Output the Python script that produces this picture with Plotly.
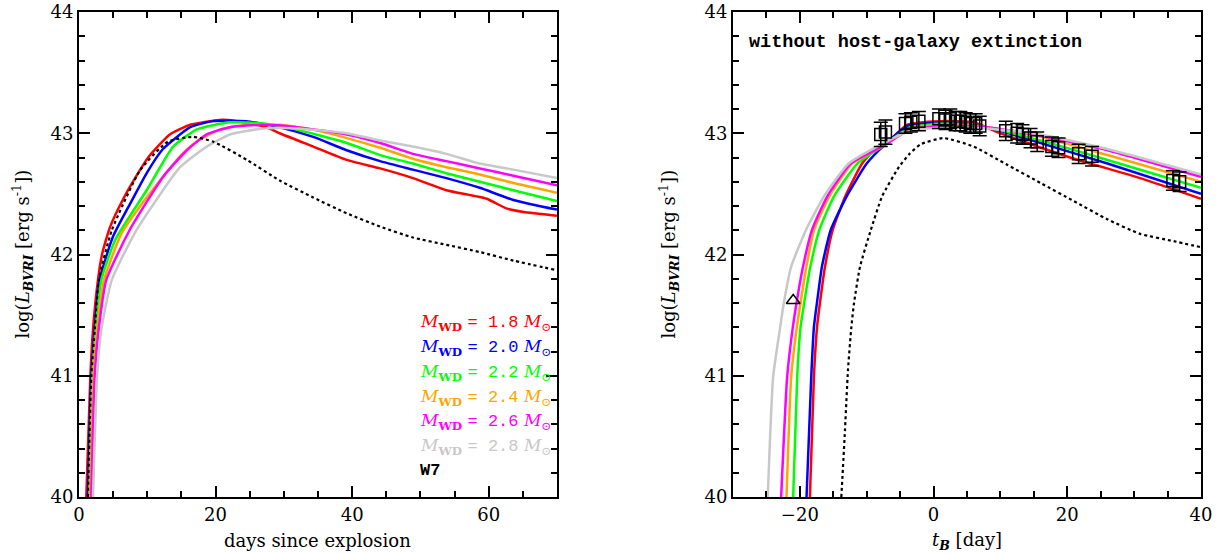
import plotly.graph_objects as go

# ---------------- Left panel: days since explosion ----------------
labels = ["1.8", "2.0", "2.2", "2.4", "2.6", "2.8"]
colors = ["#ff0000", "#0000ff", "#00ff00", "#ffa500", "#ff00ff", "#c8c8c8"]

L_t_18 = [1.07, 1.66, 2.05, 2.78, 3.37, 4.5, 6.5, 9.2, 10.4, 13.3, 16.3, 20.6, 23.1, 27.5, 29.4, 34.3, 39.2, 44.1, 48.9, 53.8, 59.7, 62.6, 65.1, 70]
L_y_18 = [40.0, 40.99, 41.38, 41.79, 42.0, 42.22, 42.46, 42.72, 42.82, 42.99, 43.07, 43.11, 43.10, 43.05, 43.0, 42.89, 42.78, 42.71, 42.63, 42.53, 42.46, 42.38, 42.35, 42.32]
L_t_20 = [1.3, 1.8, 2.3, 3.0, 5.0, 7.5, 10.0, 12.3, 16.3, 19.7, 24.5, 29.4, 34.3, 39.2, 44.1, 48.9, 53.8, 58.7, 63.6, 70]
L_y_20 = [40.0, 40.99, 41.38, 41.79, 42.15, 42.42, 42.68, 42.87, 43.05, 43.10, 43.10, 43.05, 42.97, 42.86, 42.77, 42.70, 42.63, 42.55, 42.45, 42.37]
L_t_22 = [1.5, 1.95, 2.44, 3.27, 5.3, 9.9, 13.8, 17.2, 22.1, 27.0, 31.9, 39.2, 44.1, 48.9, 53.8, 58.7, 63.6, 70]
L_y_22 = [40.0, 40.99, 41.38, 41.79, 42.12, 42.53, 42.89, 43.03, 43.09, 43.08, 43.03, 42.92, 42.82, 42.75, 42.67, 42.60, 42.53, 42.44]
L_t_24 = [1.6, 2.05, 2.64, 3.66, 6.2, 9.9, 14.8, 17.2, 20.6, 24.6, 29.4, 34.3, 39.2, 44.1, 48.9, 53.8, 58.7, 63.6, 70]
L_y_24 = [40.0, 40.99, 41.38, 41.79, 42.17, 42.47, 42.81, 42.93, 43.03, 43.07, 43.07, 43.03, 42.96, 42.88, 42.79, 42.72, 42.66, 42.59, 42.51]
L_t_26 = [1.8, 2.3, 2.88, 4.0, 7.4, 12.3, 15.8, 18.7, 22.1, 27.0, 31.9, 39.2, 44.1, 48.9, 53.8, 58.7, 63.6, 70]
L_y_26 = [40.0, 40.99, 41.38, 41.79, 42.2, 42.64, 42.86, 42.99, 43.05, 43.07, 43.05, 42.99, 42.92, 42.83, 42.77, 42.71, 42.65, 42.57]
L_t_28 = [2.05, 2.64, 3.27, 4.8, 8.4, 14.8, 18.7, 22.1, 27.0, 31.9, 39.2, 44.1, 48.9, 53.8, 58.7, 63.6, 70]
L_y_28 = [40.0, 40.99, 41.38, 41.79, 42.2, 42.72, 42.89, 42.99, 43.04, 43.04, 43.0, 42.94, 42.89, 42.83, 42.75, 42.70, 42.63]
L_t_w7 = [1.3, 1.8, 2.3, 2.9, 4.8, 9.0, 13.0, 16.7, 19.7, 24.6, 29.4, 34.3, 39.2, 44.1, 48.9, 53.8, 58.7, 63.6, 70]
L_y_w7 = [40.0, 40.99, 41.38, 41.79, 42.2, 42.7, 42.93, 42.97, 42.93, 42.78, 42.61, 42.47, 42.34, 42.23, 42.14, 42.08, 42.02, 41.95, 41.87]

# ---------------- Right panel: t_B ----------------
R_t_18 = [-18.5, -17.9, -17.4, -16.95, -16.3, -15.1, -13.2, -10.7, -8.9, -7.4, -3.9, 1.0, 6.0, 9.5, 13.5, 21.0, 30.9, 40]
R_y_18 = [40.0, 40.99, 41.42, 41.62, 41.88, 42.20, 42.48, 42.75, 42.86, 42.90, 43.07, 43.10, 43.09, 43.01, 42.93, 42.79, 42.63, 42.46]
R_t_20 = [-19.0, -18.3, -17.9, -17.4, -16.7, -15.4, -13.0, -10.0, -7.4, -3.9, 2.0, 8.5, 16.0, 26.0, 40]
R_y_20 = [40.0, 40.99, 41.40, 41.62, 41.90, 42.20, 42.48, 42.75, 42.90, 43.06, 43.09, 43.04, 42.92, 42.75, 42.50]
R_t_22 = [-21.0, -20.4, -19.9, -19.3, -18.5, -17.1, -14.9, -11.4, -7.4, -3.5, 2.0, 8.0, 16.0, 26.0, 40]
R_y_22 = [40.0, 40.99, 41.40, 41.62, 41.88, 42.20, 42.48, 42.75, 42.90, 43.05, 43.08, 43.05, 42.94, 42.78, 42.55]
R_t_24 = [-22.0, -21.3, -20.5, -19.9, -19.15, -17.9, -15.6, -12.2, -7.4, -3.5, 2.0, 8.0, 16.0, 26.0, 40]
R_y_24 = [40.0, 40.99, 41.38, 41.60, 41.86, 42.20, 42.48, 42.75, 42.90, 43.04, 43.07, 43.05, 42.97, 42.82, 42.60]
R_t_26 = [-22.8, -21.9, -21.1, -20.5, -19.6, -18.2, -15.9, -12.4, -7.4, -3.5, 2.0, 8.0, 16.0, 26.0, 40]
R_y_26 = [40.0, 40.99, 41.38, 41.60, 41.88, 42.20, 42.48, 42.75, 42.90, 43.03, 43.06, 43.05, 42.98, 42.86, 42.64]
R_t_28 = [-24.8, -24.0, -23.0, -22.4, -21.3, -19.1, -16.4, -12.7, -7.4, -3.5, 2.0, 8.0, 16.0, 26.0, 40]
R_y_28 = [40.0, 40.99, 41.38, 41.60, 41.90, 42.20, 42.48, 42.75, 42.92, 43.02, 43.05, 43.04, 42.99, 42.87, 42.66]
R_t_w7 = [-13.8, -13.3, -12.8, -12.3, -11.9, -11.0, -9.4, -7.7, -5.2, -3.6, -1.9, 1.5, 6.0, 11.0, 16.0, 21.0, 26.0, 30.9, 35.9, 40]
R_y_w7 = [40.0, 40.50, 41.05, 41.40, 41.60, 41.90, 42.20, 42.48, 42.72, 42.83, 42.91, 42.96, 42.89, 42.74, 42.59, 42.44, 42.29, 42.17, 42.11, 42.06]

# observed points
obs_t = [-7.9, -7.2, -4.2, -3.4, -2.2, 0.8, 1.8, 2.5, 3.3, 4.0, 4.8, 5.5, 6.3, 6.9, 10.8, 12.5, 13.3, 14.5, 15.5, 17.7, 18.7, 21.7, 23.7, 35.8, 36.8]
obs_L = [42.99, 43.01, 43.08, 43.09, 43.10, 43.12, 43.11, 43.12, 43.10, 43.10, 43.09, 43.08, 43.08, 43.06, 43.02, 43.00, 42.99, 42.96, 42.93, 42.89, 42.88, 42.83, 42.81, 42.61, 42.60]
obs_err = [0.10, 0.10, 0.08, 0.08, 0.08, 0.08, 0.08, 0.08, 0.08, 0.08, 0.08, 0.08, 0.08, 0.08, 0.08, 0.08, 0.08, 0.08, 0.08, 0.08, 0.08, 0.08, 0.08, 0.08, 0.08]
tri_t = [-21.0]
tri_L = [41.62]

left_t = [L_t_18, L_t_20, L_t_22, L_t_24, L_t_26, L_t_28]
left_y = [L_y_18, L_y_20, L_y_22, L_y_24, L_y_26, L_y_28]
right_t = [R_t_18, R_t_20, R_t_22, R_t_24, R_t_26, R_t_28]
right_y = [R_y_18, R_y_20, R_y_22, R_y_24, R_y_26, R_y_28]

SERIF = "DejaVu Serif"
MONO = "Liberation Mono"

fig = go.Figure()
for i in range(6):
    fig.add_trace(go.Scatter(x=left_t[i], y=left_y[i], mode="lines",
                             line=dict(color=colors[i], width=2.5, shape="spline", smoothing=0.5),
                             xaxis="x", yaxis="y", showlegend=False))
fig.add_trace(go.Scatter(x=L_t_w7, y=L_y_w7, mode="lines",
                         line=dict(color="black", width=2.2, dash="dot", shape="spline", smoothing=0.5),
                         xaxis="x", yaxis="y", showlegend=False))
for i in range(6):
    fig.add_trace(go.Scatter(x=right_t[i], y=right_y[i], mode="lines",
                             line=dict(color=colors[i], width=2.5, shape="spline", smoothing=0.5),
                             xaxis="x2", yaxis="y2", showlegend=False))
fig.add_trace(go.Scatter(x=R_t_w7, y=R_y_w7, mode="lines",
                         line=dict(color="black", width=2.2, dash="dot", shape="spline", smoothing=0.5),
                         xaxis="x2", yaxis="y2", showlegend=False))
fig.add_trace(go.Scatter(x=obs_t, y=obs_L, mode="markers",
                         marker=dict(symbol="square-open", size=12, color="black", line=dict(width=1.5)),
                         error_y=dict(type="data", array=obs_err, visible=True, color="black",
                                      thickness=1.5, width=7),
                         xaxis="x2", yaxis="y2", showlegend=False))
fig.add_trace(go.Scatter(x=tri_t, y=tri_L, mode="markers",
                         marker=dict(symbol="triangle-up-open", size=12, color="black", line=dict(width=1.5)),
                         xaxis="x2", yaxis="y2", showlegend=False))

axis_common = dict(showline=True, linewidth=2, linecolor="black", mirror="ticks",
                   ticks="inside", ticklen=11, tickwidth=1.5, tickcolor="black",
                   showgrid=False, zeroline=False, automargin=False,
                   tickfont=dict(family=SERIF, size=18, color="black"))
minor_common = dict(ticklen=6, ticks="inside", tickcolor="black", tickwidth=1.5)

fig.update_layout(
    width=1222, height=554, autosize=False,
    paper_bgcolor="white", plot_bgcolor="white",
    margin=dict(l=79, r=21, t=12, b=57, autoexpand=False),
    xaxis=dict(domain=[0, 0.426], range=[0, 70], dtick=20, tick0=0,
               minor=dict(dtick=5, **minor_common), anchor="y", **axis_common),
    yaxis=dict(domain=[0, 1], range=[40, 44], dtick=1, tick0=40,
               minor=dict(dtick=0.2, **minor_common), anchor="x", **axis_common),
    xaxis2=dict(domain=[0.5829, 1.0], range=[-30, 40], dtick=20, tick0=0,
                minor=dict(dtick=5, **minor_common), anchor="y2", **axis_common),
    yaxis2=dict(domain=[0, 1], range=[40, 44], dtick=1, tick0=40,
                minor=dict(dtick=0.2, **minor_common), anchor="x2", **axis_common),
)

# axis titles as annotations
ylab = "log(<i>L</i><sub><b><i>BVRI</i></b></sub> [erg s<sup>-1</sup>])"
title_font = dict(family=SERIF, size=18, color="black")
fig.add_annotation(x=0.5, y=-0.09, xref="x domain", yref="y domain", text="days since explosion",
                   showarrow=False, xanchor="center", yanchor="middle", font=title_font)
fig.add_annotation(x=0.5, y=-0.09, xref="x2 domain", yref="y2 domain", text="<i>t</i><sub><b><i>B</i></b></sub> [day]",
                   showarrow=False, xanchor="center", yanchor="middle", font=title_font)
fig.add_annotation(x=-57 / 478, y=0.5, xref="x domain", yref="y domain", text=ylab, textangle=-90,
                   showarrow=False, xanchor="center", yanchor="middle", font=title_font)
fig.add_annotation(x=-65 / 468, y=0.5, xref="x2 domain", yref="y2 domain", text=ylab, textangle=-90,
                   showarrow=False, xanchor="center", yanchor="middle", font=title_font)

# legend text on the left panel
leg_y = [322, 347, 372, 397, 421, 446]
for i in range(6):
    txt = (f"<i>M</i><sub><b>WD</b></sub> <span style='font-family:{MONO}'>= {labels[i]}</span> "
           f"<i>M</i><sub>⊙</sub>")
    fig.add_annotation(x=0.709, y=(497 - leg_y[i]) / 485, xref="x domain", yref="y domain",
                       text=txt, showarrow=False, xanchor="left", yanchor="middle",
                       font=dict(family=SERIF, size=17, color=colors[i]))
fig.add_annotation(x=0.709, y=(497 - 470) / 485, xref="x domain", yref="y domain",
                   text="<b>W7</b>", showarrow=False, xanchor="left", yanchor="middle",
                   font=dict(family=MONO, size=17, color="black"))

fig.add_annotation(x=0.03, y=(497 - 42) / 485, xref="x2 domain", yref="y2 domain",
                   text="<b>without host-galaxy extinction</b>", showarrow=False,
                   xanchor="left", yanchor="middle",
                   font=dict(family=MONO, size=18.5, color="black"))

fig.write_html("out.html")
